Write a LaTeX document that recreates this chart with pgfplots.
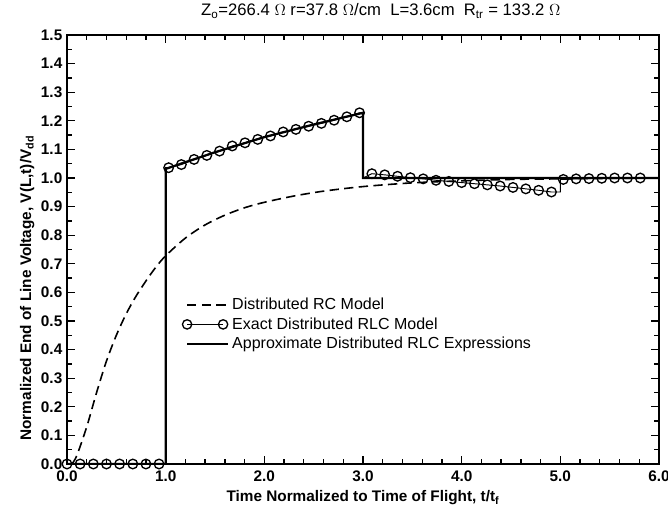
\documentclass[border=0pt]{standalone}
\usepackage{fontspec}
\setmainfont{Liberation Sans}
\usepackage{pgfplots}
\pgfplotsset{compat=1.18}
\begin{document}
\begin{tikzpicture}
\begin{axis}[
  scale only axis,
  width=444pt, height=321.75pt,
  xmin=0, xmax=6, ymin=0, ymax=1.5,
  xtick={0,1,...,6}, ytick={0,0.1,...,1.5},
  minor x tick num=4, minor y tick num=1,
  tick align=inside,
  major tick length=6pt, minor tick length=3.5pt,
  axis line style={line width=1.5pt},
  every tick/.style={line width=1pt, black},
  /pgf/number format/assume math mode=true,
  /pgf/number format/.cd, fixed, fixed zerofill, precision=1, /pgfplots/.cd,
  tick label style={font=\fontsize{11.5}{12}\selectfont\bfseries},
  xticklabel style={yshift=-1.5pt},
  xlabel={\bfseries Time Normalized to Time of Flight, t/t\textsubscript{f}},
  ylabel={\bfseries Normalized End of Line Voltage, V(L,t)/V\textsubscript{dd}},
  label style={font=\fontsize{11.5}{12}\selectfont},
  xlabel style={yshift=0pt},
  ylabel style={at={(ticklabel cs:0.41)}, yshift=-2pt},
  title={Z\textsubscript{o}=266.4 $\Omega$ r=37.8 $\Omega$/cm \ L=3.6cm \ R\textsubscript{tr} = 133.2 $\Omega$},
  title style={font=\fontsize{12.5}{13}\selectfont, at={(0.53,1)}, anchor=south, yshift=3pt},
  legend style={at={(axis cs:1.12,0.6)}, anchor=north west, draw=none, fill=none,
    font=\fontsize{12}{13}\selectfont, row sep=0.5pt, cells={anchor=west}},
  legend cell align=left,
]
\addlegendimage{legend image code/.code={\draw[line width=1.2pt, dash pattern=on 7pt off 4pt] (0pt,0pt) -- (31pt,0pt);}}
\addlegendentry{Distributed RC Model}
\addlegendimage{legend image code/.code={\draw[line width=0.7pt] (0pt,0pt) -- (27pt,0pt); \draw[line width=1pt] (0pt,0pt) circle (3.5pt); \draw[line width=1pt] (27pt,0pt) circle (3.5pt);}}
\addlegendentry{Exact Distributed RLC Model}
\addlegendimage{legend image code/.code={\draw[line width=1.7pt] (0pt,0pt) -- (31pt,0pt);}}
\addlegendentry{Approximate Distributed RLC Expressions}

% Distributed RC model
\addplot[forget plot, black, line width=1.2pt, dash pattern=on 7pt off 4pt, smooth] coordinates {
(0.05,0) (0.1,0.03) (0.2,0.13) (0.3,0.25) (0.4,0.36) (0.5,0.45) (0.6,0.525) (0.7,0.587)
(0.8,0.64) (0.9,0.688) (1.0,0.728) (1.2,0.79) (1.4,0.836) (1.6,0.87) (1.8,0.896)
(2.0,0.915) (2.3,0.937) (2.6,0.954) (3.0,0.970) (3.5,0.983) (4.0,0.990) (4.5,0.995)
(5.0,0.997) (6.0,1.0)};

% Approximate distributed RLC expressions
\addplot[forget plot, black, line width=1.7pt] coordinates {
(0,0) (1,0) (1,1.032) (1.5,1.09) (2,1.143) (2.5,1.187) (3,1.228) (3,1.0) (6,1.0)};

% Exact distributed RLC model: line
\addplot[forget plot, black, line width=0.7pt] coordinates {
(0,0) (1.0,0) (1.0,1.036) (1.03,1.036) (1.159,1.047) (1.288,1.065) (1.417,1.079) (1.546,1.094)
(1.675,1.112) (1.804,1.123) (1.933,1.135) (2.062,1.147) (2.191,1.161) (2.32,1.170)
(2.449,1.181) (2.578,1.191) (2.707,1.202) (2.836,1.214) (2.965,1.228) (3.0,1.228) (3.0,1.0)
(3.09,1.015) (3.22,1.011) (3.35,1.006) (3.48,1.001) (3.61,0.997) (3.74,0.992) (3.87,0.988)
(4.00,0.984) (4.13,0.980) (4.26,0.976) (4.39,0.972) (4.52,0.967) (4.65,0.962) (4.78,0.957)
(4.91,0.951) (5.0,0.951) (5.0,0.995) (5.03,0.995) (5.16,0.997) (5.29,0.998) (5.42,0.999)
(5.55,1.0) (5.68,1.0) (5.81,1.0)};

% Exact distributed RLC model: markers
\addplot[forget plot, only marks, black, mark=o, mark size=3.6pt, mark options={line width=1pt}] coordinates {
(0,0) (0.133,0) (0.267,0) (0.4,0) (0.533,0) (0.667,0) (0.8,0) (0.933,0)
(1.03,1.036) (1.159,1.047) (1.288,1.065) (1.417,1.079) (1.546,1.094)
(1.675,1.112) (1.804,1.123) (1.933,1.135) (2.062,1.147) (2.191,1.161) (2.32,1.170)
(2.449,1.181) (2.578,1.191) (2.707,1.202) (2.836,1.214) (2.965,1.228)
(3.09,1.015) (3.22,1.011) (3.35,1.006) (3.48,1.001) (3.61,0.997) (3.74,0.992) (3.87,0.988)
(4.00,0.984) (4.13,0.980) (4.26,0.976) (4.39,0.972) (4.52,0.967) (4.65,0.962) (4.78,0.957)
(4.91,0.951) (5.03,0.995) (5.16,0.997) (5.29,0.998) (5.42,0.999)
(5.55,1.0) (5.68,1.0) (5.81,1.0)};
\end{axis}
\pgfresetboundingbox
\path ([shift={(-50.25pt,-47.25pt)}]current axis.south west) rectangle ([shift={(6.75pt,26.25pt)}]current axis.north east);
\end{tikzpicture}
\end{document}
